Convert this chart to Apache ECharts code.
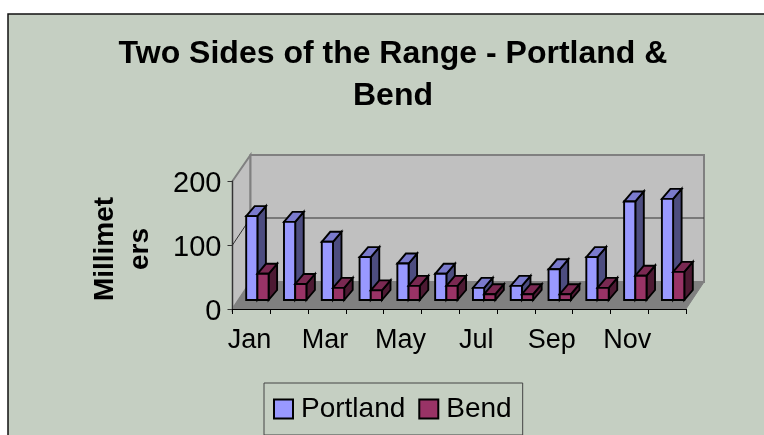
<!DOCTYPE html>
<html>
<head>
<meta charset="utf-8">
<style>html,body{margin:0;padding:0;background:#fff}#main{width:764px;height:435px}</style>
<script src="https://cdn.jsdelivr.net/npm/echarts@6/dist/echarts.min.js"></script>
</head>
<body>
<div id="main"></div>
<script>
var months = ['Jan','Feb','Mar','Apr','May','Jun','Jul','Aug','Sep','Oct','Nov','Dec'];
var portland = [131,122,91,67,57,41,19,22,48,67,154,158];
var bend = [41,25,19,15,22,22,9,9,9,19,38,44];
var yTicks = [0,100,200];

// 3d look: how far the back wall and the bars are pushed up and right
var wallDx = 18, wallDy = -27;
var barDx = 8.5, barDy = -10;
var shiftDx = 6, shiftDy = -9;
var barW = 11.2;

function poly(points, fill, stroke, lw) {
    return {
        type: 'polygon',
        shape: { points: points },
        style: { fill: fill, stroke: stroke, lineWidth: lw }
    };
}

function renderWalls(params, api) {
    var c = params.coordSys;
    var l = c.x, r = c.x + c.width, t = c.y, b = c.y + c.height;
    var kids = [
        poly([[l,t],[l+wallDx,t+wallDy+1],[l+wallDx,b+wallDy],[l,b]], '#c0c0c0', '#808080', 2),
        poly([[l+wallDx,t+wallDy+1],[r+wallDx,t+wallDy+1],[r+wallDx,b+wallDy],[l+wallDx,b+wallDy]], '#c0c0c0', '#808080', 2),
        poly([[l,b],[l+wallDx,b+wallDy],[r+wallDx,b+wallDy],[r,b]], '#808080', '#808080', 1)
    ];
    yTicks.forEach(function(v) {
        if (v === 0 || v === 200) return;
        var y = api.coord([0, v])[1];
        kids.push({ type: 'polyline', shape: { points: [[l,y],[l+wallDx,y+wallDy],[r+wallDx,y+wallDy]] },
            style: { fill: null, stroke: '#333', lineWidth: 1 } });
    });
    return { type: 'group', children: kids };
}

function barRenderer(offset, front, top, side) {
    return function(params, api) {
        var p = api.coord([api.value(0), api.value(1)]);
        var base = api.coord([api.value(0), 0]);
        var x0 = p[0] + shiftDx + offset * barW;
        var x1 = x0 + barW;
        var yb = base[1] + shiftDy, yt = p[1] + shiftDy;
        return {
            type: 'group',
            children: [
                poly([[x1,yt],[x1+barDx,yt+barDy],[x1+barDx,yb+barDy],[x1,yb]], side, '#000', 1.9),
                poly([[x0,yt],[x0+barDx,yt+barDy],[x1+barDx,yt+barDy],[x1,yt]], top, '#000', 1.9),
                poly([[x0,yt],[x1,yt],[x1,yb],[x0,yb]], front, '#000', 1.9)
            ]
        };
    };
}

var myChart = echarts.init(document.getElementById('main'), null, { renderer: 'canvas' });

var option = {
    animation: false,
    backgroundColor: '#fff',
    textStyle: { fontFamily: 'Liberation Sans' },
    graphic: [{
        type: 'rect', z: -1, silent: true,
        shape: { x: 8, y: 14, width: 760, height: 430 },
        style: { fill: '#c5cfc2', stroke: '#111', lineWidth: 1.5 }
    }],
    title: {
        text: 'Two Sides of the Range - Portland &\nBend',
        left: 388, top: 28, textAlign: 'center',
        textStyle: { fontFamily: 'Liberation Sans', fontSize: 32, fontWeight: 'bold', color: '#000', lineHeight: 42 }
    },
    legend: {
        left: 264, top: 383,
        padding: [12, 11, 12, 9],
        itemWidth: 19, itemHeight: 19, itemGap: 13,
        borderColor: '#444', borderWidth: 1,
        icon: 'rect',
        data: ['Portland', 'Bend'],
        itemStyle: { borderColor: '#000', borderWidth: 2 },
        textStyle: { fontFamily: 'Liberation Sans', fontSize: 28, color: '#000', lineHeight: 26, padding: [0,0,0,3] }
    },
    grid: { left: 232.5, right: 78, top: 181, bottom: 126 },
    xAxis: {
        type: 'category', data: months, z: 3,
        axisLine: { lineStyle: { color: '#000', width: 1 } },
        axisTick: { show: true, length: 5, interval: 0, lineStyle: { color: '#000' } },
        axisLabel: { interval: 1, fontSize: 27, color: '#000', margin: 18, fontFamily: 'Liberation Sans', padding: [0,4,0,0] }
    },
    yAxis: {
        type: 'value', min: 0, max: 200, interval: 100, z: 3,
        name: 'Millimet\ners', nameLocation: 'middle', nameRotate: 90, nameGap: 75,
        nameTextStyle: { fontFamily: 'Liberation Sans', fontSize: 28, fontWeight: 'bold', color: '#000', lineHeight: 35, padding: [0,8,0,0] },
        axisLine: { show: true, lineStyle: { color: '#333', width: 1 } },
        axisTick: { show: true, length: 5, lineStyle: { color: '#333' } },
        axisLabel: { fontSize: 29, color: '#000', margin: 11, fontFamily: 'Liberation Sans', verticalAlign: 'top', lineHeight: 6 },
        splitLine: { show: false }
    },
    series: [
        { type: 'custom', name: 'walls', z: 1, clip: false, silent: true, data: [[0, 0]], renderItem: renderWalls },
        { type: 'custom', name: 'Portland', z: 4, clip: false, itemStyle: { color: '#9999ff' },
          data: portland.map(function(v, i) { return [i, v]; }),
          encode: { x: 0, y: 1 },
          renderItem: barRenderer(-1, '#9999ff', '#7a7acc', '#4d4d80') },
        { type: 'custom', name: 'Bend', z: 5, clip: false, itemStyle: { color: '#993366' },
          data: bend.map(function(v, i) { return [i, v]; }),
          encode: { x: 0, y: 1 },
          renderItem: barRenderer(0, '#993366', '#7a2952', '#4d1a33') }
    ]
};

myChart.setOption(option);
</script>
</body>
</html>
